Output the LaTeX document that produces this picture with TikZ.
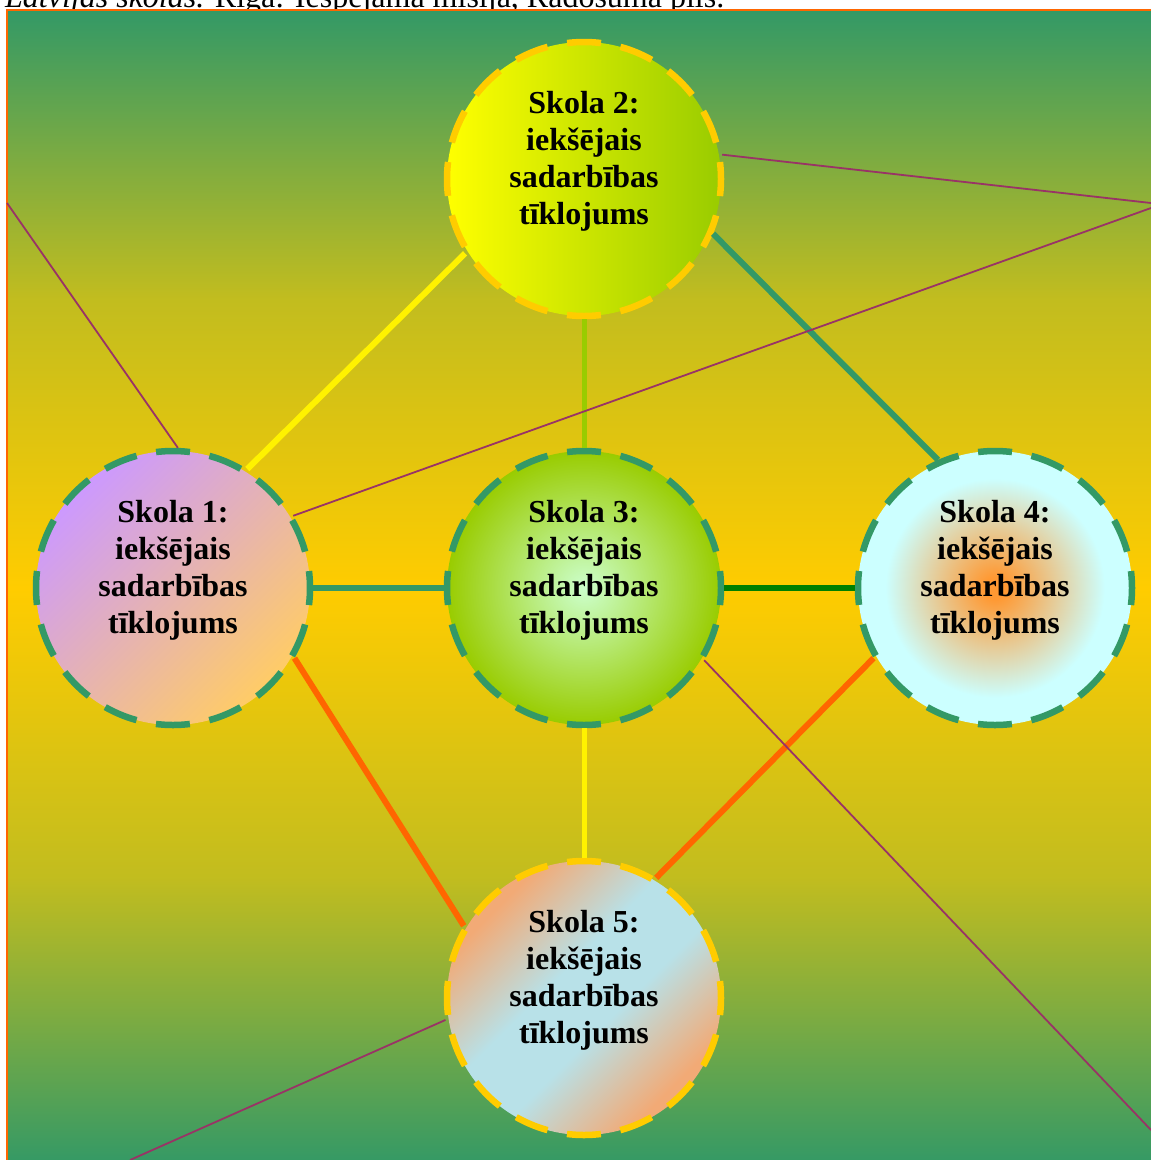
\documentclass[tikz,border=0pt]{standalone}
\usepackage{fontspec}
\setmainfont{Liberation Serif}

\definecolor{grassgreen}{HTML}{339966}
\definecolor{sungold}{HTML}{FFCC00}
\definecolor{frameorange}{HTML}{FF6600}
\definecolor{plum}{HTML}{993366}
\definecolor{lime}{HTML}{99CC00}
\definecolor{leafgreen}{HTML}{008000}
\definecolor{lavender}{HTML}{CC99FF}
\definecolor{peach}{HTML}{FFCC66}
\definecolor{mint}{HTML}{CCFFCC}
\definecolor{coreorange}{HTML}{FF9933}
\definecolor{icecyan}{HTML}{CCFFFF}
\definecolor{salmon}{RGB}{242,170,118}
\definecolor{paleblue}{RGB}{184,225,232}

\pgfdeclareverticalshading{bgband}{100bp}
{color(0bp)=(grassgreen);
  color(25bp)=(grassgreen);
  color(37.5bp)=(sungold!70!grassgreen);
  color(50bp)=(sungold);
  color(62.5bp)=(sungold!70!grassgreen);
  color(75bp)=(grassgreen);
  color(100bp)=(grassgreen)}
\pgfdeclareradialshading{orangecore}{\pgfpoint{0bp}{0bp}}
{color(0bp)=(coreorange);
  color(2bp)=(coreorange);
  color(20bp)=(icecyan);
  color(25bp)=(icecyan);
  color(50bp)=(icecyan)}
\pgfdeclarehorizontalshading{blueband}{100bp}
{color(0bp)=(salmon);
  color(27bp)=(salmon);
  color(44bp)=(paleblue);
  color(56bp)=(paleblue);
  color(73bp)=(salmon);
  color(100bp)=(salmon)}

\tikzset{
  school/.style={circle,minimum size=274pt,inner sep=0pt,line width=6.5pt,
    dash pattern=on 34pt off 19.8pt,dash phase=17pt},
  school text/.style={font=\bfseries\fontsize{32}{37}\selectfont,align=center,
    yshift=18pt,inner sep=0pt},
  link/.style={line width=6pt},
  thin link/.style={draw=plum,line width=1.8pt}
}

\begin{document}
\begin{tikzpicture}[x=1pt,y=-1pt]
  \useasboundingbox (0,0) rectangle (1151,1160);

  % source line, half hidden under the frame
  \node[anchor=base west,inner sep=0pt,font=\fontsize{32}{37}\selectfont] (source) at (5,7)
    {\textit{Latvijas skolas.} Rīga: Iespējamā misija, Radošuma pils.};

  % the background
  \shade[shading=bgband,draw=frameorange,line width=2pt] (7,10) rectangle (1157,1166);

  % the five schools
  \node[school,draw=sungold,left color=yellow,right color=lime,
    label={[school text]center:{Skola 2:\\iekšējais\\sadarbības\\tīklojums}}] (Skola2) at (584,179) {};
  \node[school,draw=grassgreen,top color=lavender,bottom color=peach,shading angle=45,
    label={[school text]center:{Skola 1:\\iekšējais\\sadarbības\\tīklojums}}] (Skola1) at (173,588) {};
  \node[school,draw=grassgreen,inner color=mint,outer color=lime,
    label={[school text]center:{Skola 3:\\iekšējais\\sadarbības\\tīklojums}}] (Skola3) at (584,588) {};
  \node[school,draw=grassgreen,shading=orangecore,
    label={[school text]center:{Skola 4:\\iekšējais\\sadarbības\\tīklojums}}] (Skola4) at (995,588) {};
  \node[school,draw=sungold,shading=blueband,shading angle=135,
    label={[school text]center:{Skola 5:\\iekšējais\\sadarbības\\tīklojums}}] (Skola5) at (584,998) {};

  % links between the schools
  \draw[link,yellow]     (Skola2.212) -- (Skola1.58);
  \draw[link,lime,line width=5pt]   (Skola2.south) -- (Skola3.north);
  \draw[link,grassgreen] (Skola2.-23) -- (Skola4.114);
  \draw[link,grassgreen] (Skola1.east) -- (Skola3.west);
  \draw[link,leafgreen]  (Skola3.east) -- (Skola4.west);
  \draw[link,frameorange] (Skola1.-30) -- (Skola5.149);
  \draw[link,yellow,line width=5pt] (Skola3.south) -- (Skola5.north);
  \draw[link,frameorange] (Skola4.210) -- (Skola5.59);

  % thin lines running out of the frame
  \coordinate (left end)   at (7,203);
  \coordinate (right end)  at (1151,203);
  \coordinate (right end2) at (1151,208);
  \coordinate (corner end) at (1151,1130);
  \coordinate (bottom end) at (130,1160);
  \draw[thin link] (left end) -- (Skola1.88);
  \draw[thin link] (Skola2.10) -- (right end);
  \draw[thin link] (right end2) -- (Skola1.31);
  \draw[thin link] (Skola3.-31) -- (corner end);
  \draw[thin link] (Skola5.189) -- (bottom end);
\end{tikzpicture}
\end{document}
